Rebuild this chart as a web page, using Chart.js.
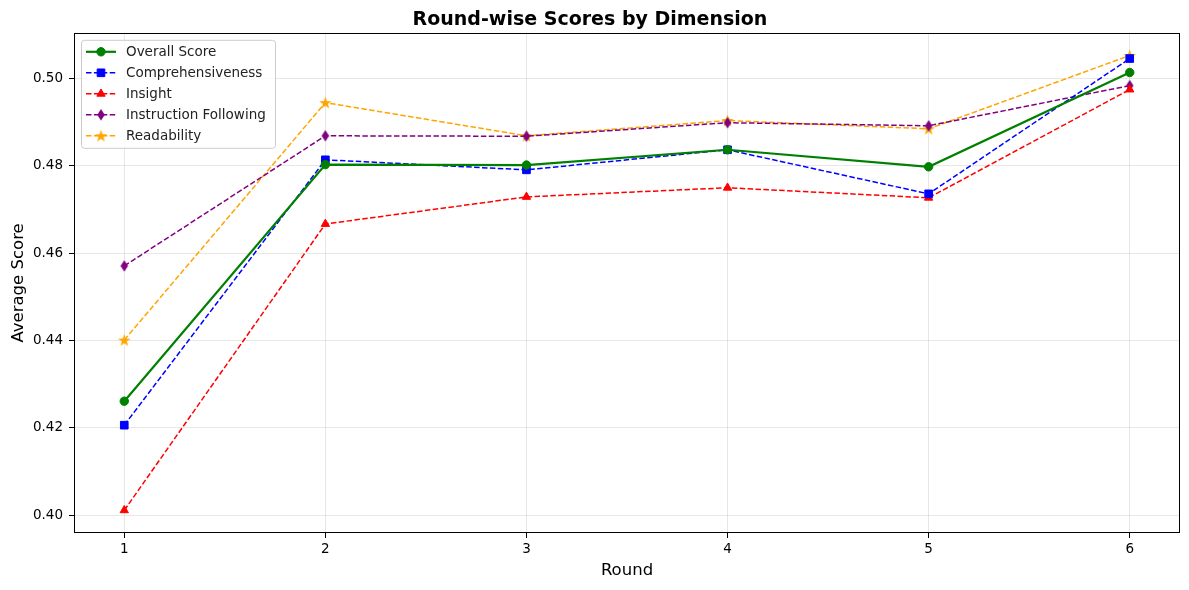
<!DOCTYPE html>
<html>
<head>
<meta charset="utf-8">
<script src="https://cdn.jsdelivr.net/npm/chart.js@4.4.0/dist/chart.umd.min.js"></script>
<style>
  html, body { margin: 0; padding: 0; background: #fff; }
  #wrap { width: 1189px; height: 590px; }
</style>
</head>
<body>
<div id="wrap"><canvas id="chart" width="1189" height="590"></canvas></div>
<script>
const rounds = [1, 2, 3, 4, 5, 6];
const overallScore = [0.4261, 0.4803, 0.4802, 0.4837, 0.4798, 0.5014];
const comprehensiveness = [0.4206, 0.4814, 0.4791, 0.4837, 0.4736, 0.5046];
const insight = [0.4011, 0.4667, 0.4729, 0.4750, 0.4727, 0.4975];
const instructionFollowing = [0.4571, 0.4869, 0.4868, 0.4899, 0.4892, 0.4984];
const readability = [0.4401, 0.4945, 0.4869, 0.4904, 0.4885, 0.5053];
const yTicks = [0.40, 0.42, 0.44, 0.46, 0.48, 0.50];

const FONT = "'DejaVu Sans', sans-serif";

// filled markers drawn on small canvases (matplotlib style)
function makeStar(color, r) {
  const c = document.createElement("canvas");
  const s = Math.ceil(r * 2 + 2);
  c.width = s; c.height = s;
  const g = c.getContext("2d");
  g.fillStyle = color;
  g.beginPath();
  for (let i = 0; i < 10; i++) {
    const rad = i % 2 === 0 ? r : r * 0.4;
    const a = -Math.PI / 2 + (i * Math.PI) / 5;
    const px = s / 2 + rad * Math.cos(a);
    const py = s / 2 + rad * Math.sin(a) + 0.5;
    if (i === 0) g.moveTo(px, py); else g.lineTo(px, py);
  }
  g.closePath();
  g.fill();
  return c;
}

function makeDiamond(color, h, w) {
  const c = document.createElement("canvas");
  c.width = Math.ceil(w + 2); c.height = Math.ceil(h + 2);
  const g = c.getContext("2d");
  const cx = c.width / 2, cy = c.height / 2;
  g.fillStyle = color;
  g.beginPath();
  g.moveTo(cx, cy - h / 2);
  g.lineTo(cx + w / 2, cy);
  g.lineTo(cx, cy + h / 2);
  g.lineTo(cx - w / 2, cy);
  g.closePath();
  g.fill();
  return c;
}

const starImg = makeStar("orange", 6.5);
const diamondImg = makeDiamond("purple", 11.5, 7.5);

const series = [
  { label: "Overall Score", data: overallScore, color: "green", dash: [], width: 2.2, point: "circle", radius: 4.2 },
  { label: "Comprehensiveness", data: comprehensiveness, color: "blue", dash: [5.5, 2.4], width: 1.5, point: "rect", radius: 5.4 },
  { label: "Insight", data: insight, color: "red", dash: [5.5, 2.4], width: 1.5, point: "triangle", radius: 4.8 },
  { label: "Instruction Following", data: instructionFollowing, color: "purple", dash: [5.5, 2.4], width: 1.5, point: diamondImg, radius: 5 },
  { label: "Readability", data: readability, color: "orange", dash: [5.5, 2.4], width: 1.5, point: starImg, radius: 5 },
];

// full black frame + matplotlib-like legend
const framePlugin = {
  id: "frame",
  afterDraw(chart) {
    const { ctx, chartArea: a } = chart;
    ctx.save();
    ctx.strokeStyle = "#000";
    ctx.lineWidth = 1;
    ctx.strokeRect(Math.round(a.left) + 0.5, Math.round(a.top) + 0.5,
      Math.round(a.right - a.left) - 1, Math.round(a.bottom - a.top) - 1);

    // legend box
    const lx = a.left + 7, ly = a.top + 7, lw = 194, lh = 108;
    ctx.fillStyle = "rgba(255,255,255,0.8)";
    ctx.strokeStyle = "#cccccc";
    ctx.lineWidth = 1;
    ctx.beginPath();
    ctx.roundRect(lx + 0.5, ly + 0.5, lw, lh, 3);
    ctx.fill();
    ctx.stroke();

    ctx.font = "13.5px " + FONT;
    ctx.textBaseline = "middle";
    series.forEach((s, i) => {
      const y = ly + 12 + i * 21;
      ctx.strokeStyle = s.color;
      ctx.lineWidth = s.width;
      ctx.setLineDash(s.dash);
      ctx.beginPath();
      ctx.moveTo(lx + 5, y);
      ctx.lineTo(lx + 35, y);
      ctx.stroke();
      ctx.setLineDash([]);
      ctx.fillStyle = s.color;
      ctx.strokeStyle = s.color;
      ctx.lineWidth = 1;
      Chart.helpers.drawPoint(ctx, {
        pointStyle: s.point, radius: s.radius, rotation: 0, borderWidth: 1
      }, lx + 20, y);
      ctx.fillStyle = "#222";
      ctx.fillText(s.label, lx + 45, y + 1);
    });
    ctx.restore();
  }
};

new Chart(document.getElementById("chart"), {
  type: "line",
  data: {
    datasets: series.map((s) => ({
      label: s.label,
      data: rounds.map((r, i) => ({ x: r, y: s.data[i] })),
      borderColor: s.color,
      backgroundColor: s.color,
      borderWidth: s.width,
      borderDash: s.dash,
      pointStyle: s.point,
      pointRadius: s.radius,
      pointBorderWidth: 1,
      pointBorderColor: s.color,
      pointBackgroundColor: s.color,
      tension: 0,
      fill: false,
    })),
  },
  options: {
    responsive: false,
    animation: false,
    layout: { padding: { top: 0, right: 9, bottom: 10, left: 0 } },
    plugins: {
      legend: { display: false },
      tooltip: { enabled: false },
      title: {
        display: true,
        text: "Round-wise Scores by Dimension",
        color: "#000",
        font: { family: FONT, size: 19, weight: "bold" },
        padding: { top: 9, bottom: 1 },
      },
    },
    scales: {
      x: {
        type: "linear",
        min: 0.75,
        max: 6.25,
        afterBuildTicks: (scale) => { scale.ticks = rounds.map((v) => ({ value: v })); },
        afterFit: (scale) => { scale.height = 47; },
        ticks: { color: "#000", font: { family: FONT, size: 13.5 }, padding: 3, callback: (v) => v },
        grid: { color: "rgba(176,176,176,0.3)", tickColor: "#000", tickLength: 5, drawTicks: true },
        border: { display: false },
        title: { display: true, text: "Round", color: "#000", font: { family: FONT, size: 16.5 }, padding: { top: 4, bottom: -1 } },
      },
      y: {
        min: 0.3959,
        max: 0.5105,
        afterBuildTicks: (scale) => { scale.ticks = yTicks.map((v) => ({ value: v })); },
        afterFit: (scale) => { scale.width = 74; },
        ticks: { color: "#000", font: { family: FONT, size: 13.5 }, padding: 6, callback: (v) => v.toFixed(2) },
        grid: { color: "rgba(176,176,176,0.3)", tickColor: "#000", tickLength: 5 },
        border: { display: false },
        title: { display: true, text: "Average Score", color: "#000", font: { family: FONT, size: 16.5 }, padding: { top: 9, bottom: 6 } },
      },
    },
  },
  plugins: [framePlugin],
});
</script>
</body>
</html>
